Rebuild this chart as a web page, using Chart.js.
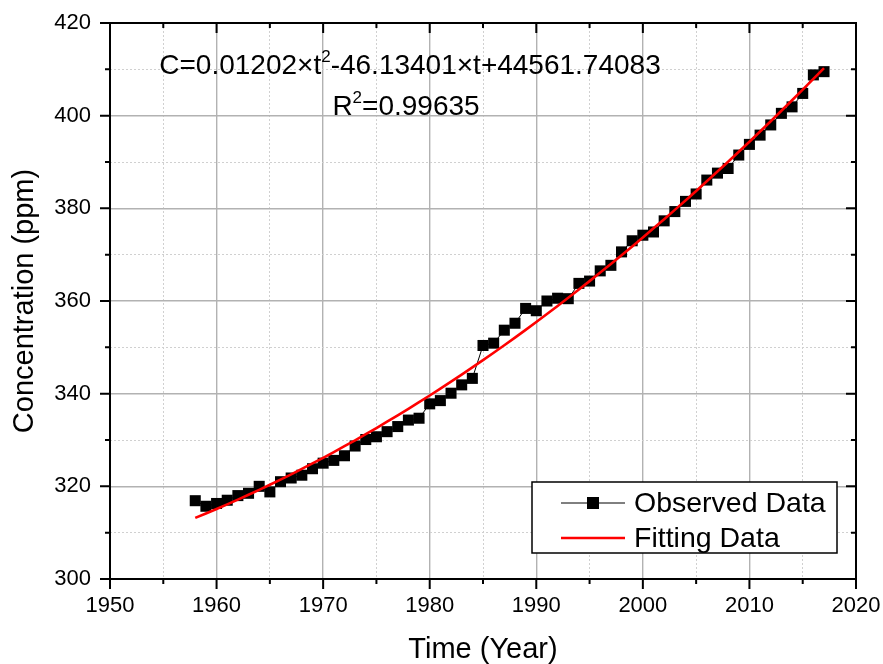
<!DOCTYPE html>
<html>
<head>
<meta charset="utf-8">
<title>CO2 concentration</title>
<script src="https://cdn.jsdelivr.net/npm/chart.js@4"></script>
<style>
  html, body { margin: 0; padding: 0; background: #fff; }
</style>
</head>
<body>
<canvas id="co2Chart" width="883" height="664"></canvas>
<script>
// Annual CO2 concentration (ppm)
const years = [
  1958, 1959, 1960, 1961, 1962, 1963, 1964, 1965, 1966, 1967,
  1968, 1969, 1970, 1971, 1972, 1973, 1974, 1975, 1976, 1977,
  1978, 1979, 1980, 1981, 1982, 1983, 1984, 1985, 1986, 1987,
  1988, 1989, 1990, 1991, 1992, 1993, 1994, 1995, 1996, 1997,
  1998, 1999, 2000, 2001, 2002, 2003, 2004, 2005, 2006, 2007,
  2008, 2009, 2010, 2011, 2012, 2013, 2014, 2015, 2016, 2017
];
const observed = [
  316.9, 315.7, 316.3, 317.0, 318.0, 318.5, 320.0, 318.8, 321.0, 321.8,
  322.4, 323.8, 325.0, 325.6, 326.6, 328.7, 330.1, 330.7, 331.8, 332.9,
  334.3, 334.7, 337.8, 338.5, 340.1, 341.9, 343.3, 350.4, 350.9, 353.7,
  355.2, 358.4, 357.9, 360.0, 360.6, 360.5, 363.8, 364.3, 366.5, 367.7,
  370.6, 373.0, 374.2, 374.9, 377.3, 379.3, 381.5, 383.1, 386.1, 387.6,
  388.6, 391.5, 393.8, 395.8, 398.0, 400.5, 401.9, 404.8, 408.8, 409.5
];

// Quadratic fit C = a*t^2 + b*t + c, as printed on the chart
const fitA = 0.01202;
const fitB = -46.13401;
const fitC = 44561.74083;
const rSquared = 0.99635;
const fitted = years.map(t => fitA * t * t + fitB * t + fitC);

const xTicks = { min: 1950, max: 2020, minor: 5, major: 10 };
const yTicks = { min: 300, max: 420, minor: 10, major: 20 };

const FONT = '"Liberation Sans", Arial, sans-serif';

const isMajor = (ctx, step) => ctx.tick && Math.round(ctx.tick.value) % step === 0;

// Solid grey grid on major ticks, dotted lighter grid on minor ticks
function gridOpts(step) {
  return {
    drawTicks: false,
    color: ctx => isMajor(ctx, step) ? '#b2b2b2' : '#d0d0d0',
    lineWidth: ctx => isMajor(ctx, step) ? 1.4 : 1
  };
}
function borderOpts(step) {
  return {
    display: false,
    dash: ctx => isMajor(ctx, step) ? [] : [2, 2]
  };
}

// Frame around the plot with ticks: outward on bottom/left, inward on top/right
const framePlugin = {
  id: 'frame',
  afterDatasetsDraw(chart) {
    const { ctx, chartArea: a, scales } = chart;
    ctx.save();
    ctx.strokeStyle = '#000';
    ctx.lineWidth = 2;
    ctx.strokeRect(a.left, a.top, a.right - a.left, a.bottom - a.top);
    ctx.beginPath();
    scales.x.ticks.forEach(t => {
      const px = scales.x.getPixelForValue(t.value);
      const len = Math.round(t.value) % xTicks.major === 0 ? 10 : 5;
      ctx.moveTo(px, a.bottom); ctx.lineTo(px, a.bottom + len);
      ctx.moveTo(px, a.top); ctx.lineTo(px, a.top + len);
    });
    scales.y.ticks.forEach(t => {
      const py = scales.y.getPixelForValue(t.value);
      const len = Math.round(t.value) % yTicks.major === 0 ? 10 : 5;
      ctx.moveTo(a.left - len, py); ctx.lineTo(a.left, py);
      ctx.moveTo(a.right - len, py); ctx.lineTo(a.right, py);
    });
    ctx.stroke();
    ctx.restore();
  }
};

// Draws runs of text where some pieces are superscripts, centred on cx
function drawRich(ctx, parts, cx, baseline, size) {
  const supSize = Math.round(size * 0.62);
  const widths = parts.map(p => {
    ctx.font = `${p.sup ? supSize : size}px ${FONT}`;
    return ctx.measureText(p.text).width;
  });
  let x = cx - widths.reduce((s, w) => s + w, 0) / 2;
  parts.forEach((p, i) => {
    ctx.font = `${p.sup ? supSize : size}px ${FONT}`;
    ctx.fillText(p.text, x, p.sup ? baseline - size * 0.42 : baseline);
    x += widths[i];
  });
}

const equationPlugin = {
  id: 'equation',
  afterDatasetsDraw(chart) {
    const { ctx, chartArea: a } = chart;
    ctx.save();
    ctx.fillStyle = '#000';
    ctx.textAlign = 'left';
    ctx.textBaseline = 'alphabetic';
    drawRich(ctx, [
      { text: `C=${fitA}\u00d7t` },
      { text: '2', sup: true },
      { text: `-${Math.abs(fitB)}\u00d7t+${fitC}` }
    ], a.left + 300, a.top + 51, 28);
    drawRich(ctx, [
      { text: 'R' },
      { text: '2', sup: true },
      { text: `=${rSquared}` }
    ], a.left + 296, a.top + 92, 28);
    ctx.restore();
  }
};

// Boxed legend in the lower right corner
const boxLegendPlugin = {
  id: 'boxLegend',
  afterDraw(chart) {
    const { ctx, chartArea: a } = chart;
    const w = 305, h = 71;
    const x0 = a.right - 19 - w;
    const y0 = a.bottom - 26 - h;
    ctx.save();
    ctx.fillStyle = '#fff';
    ctx.fillRect(x0, y0, w, h);
    ctx.strokeStyle = '#000';
    ctx.lineWidth = 1.5;
    ctx.strokeRect(x0, y0, w, h);
    ctx.font = `28.5px ${FONT}`;
    ctx.textBaseline = 'middle';
    ctx.textAlign = 'left';
    chart.data.datasets.forEach((ds, i) => {
      const cy = y0 + 21 + i * 35;
      ctx.strokeStyle = ds.borderColor;
      ctx.lineWidth = ds.borderWidth;
      ctx.beginPath();
      ctx.moveTo(x0 + 29, cy);
      ctx.lineTo(x0 + 93, cy);
      ctx.stroke();
      if (ds.pointRadius > 0) {
        ctx.fillStyle = ds.pointBackgroundColor;
        ctx.fillRect(x0 + 61 - 6, cy - 6, 12, 12);
      }
      ctx.fillStyle = '#000';
      ctx.fillText(ds.label, x0 + 102, cy + 1);
    });
    ctx.restore();
  }
};

const chart = new Chart(document.getElementById('co2Chart'), {
  type: 'line',
  data: {
    datasets: [{
      label: 'Observed Data',
      data: years.map((t, i) => ({ x: t, y: observed[i] })),
      borderColor: '#000',
      borderWidth: 1,
      pointStyle: 'rect',
      pointRadius: 7.8,
      pointBackgroundColor: '#000',
      pointBorderWidth: 0,
      tension: 0,
      order: 2
    }, {
      label: 'Fitting Data',
      data: years.map((t, i) => ({ x: t, y: fitted[i] })),
      borderColor: '#ff0000',
      borderWidth: 2.6,
      pointRadius: 0,
      tension: 0,
      order: 1
    }]
  },
  options: {
    responsive: false,
    animation: false,
    layout: { padding: { top: 23, right: 27, left: 0, bottom: 0 } },
    plugins: {
      legend: { display: false },
      tooltip: { enabled: false }
    },
    scales: {
      x: {
        type: 'linear',
        min: xTicks.min,
        max: xTicks.max,
        ticks: {
          stepSize: xTicks.minor,
          autoSkip: false,
          maxRotation: 0,
          padding: 14,
          color: '#000',
          font: { family: FONT, size: 22 },
          callback: v => Math.round(v) % xTicks.major === 0 ? v : ''
        },
        grid: gridOpts(xTicks.major),
        border: borderOpts(xTicks.major),
        title: {
          display: true,
          text: 'Time (Year)',
          color: '#000',
          font: { family: FONT, size: 29, lineHeight: 1 },
          padding: { top: 0, bottom: 0 }
        },
        // fixed band height; edge labels may overhang into the page margin
        afterFit: s => { s.height = 85; s.paddingLeft = 0; s.paddingRight = 0; }
      },
      y: {
        type: 'linear',
        min: yTicks.min,
        max: yTicks.max,
        ticks: {
          stepSize: yTicks.minor,
          padding: 19,
          color: '#000',
          font: { family: FONT, size: 22 },
          callback: v => Math.round(v) % yTicks.major === 0 ? v : ''
        },
        grid: gridOpts(yTicks.major),
        border: borderOpts(yTicks.major),
        title: {
          display: true,
          text: 'Concentration (ppm)',
          color: '#000',
          font: { family: FONT, size: 29, lineHeight: 1 },
          padding: { top: 10, bottom: 0 }
        },
        afterFit: s => { s.width = 110; s.paddingTop = 0; s.paddingBottom = 0; }
      }
    }
  },
  plugins: [framePlugin, equationPlugin, boxLegendPlugin]
});
</script>
</body>
</html>
